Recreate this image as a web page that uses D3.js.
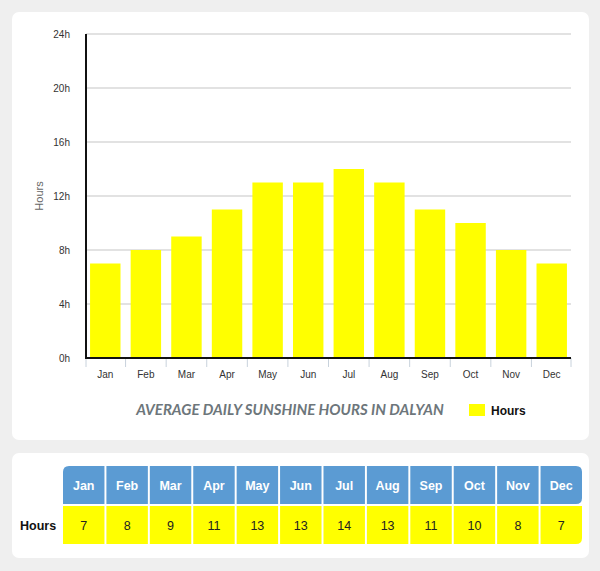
<!DOCTYPE html>
<html>
<head>
<meta charset="utf-8">
<script src="https://cdn.jsdelivr.net/npm/d3@7"></script>
<style>
  body { margin: 0; background: #efefef; }
  svg { display: block; }
  .tick text { font-family: "Liberation Sans", Arial, sans-serif; }
</style>
</head>
<body>
<div id="chart"></div>
<script>
// Chart data
var months = ["Jan", "Feb", "Mar", "Apr", "May", "Jun", "Jul", "Aug", "Sep", "Oct", "Nov", "Dec"];
var hours = [7, 8, 9, 11, 13, 13, 14, 13, 11, 10, 8, 7];
var yTicks = [0, 4, 8, 12, 16, 20, 24];

var svgWidth = 600;
var svgHeight = 571;

var svg = d3.select("#chart")
  .append("svg")
  .attr("width", svgWidth)
  .attr("height", svgHeight);

// Cards
svg.append("rect")
  .attr("x", 12).attr("y", 12)
  .attr("width", 577).attr("height", 428)
  .attr("rx", 7)
  .attr("fill", "#ffffff");

svg.append("rect")
  .attr("x", 12).attr("y", 453)
  .attr("width", 577).attr("height", 105)
  .attr("rx", 7)
  .attr("fill", "#ffffff");

// Plot area
var plot = { left: 86, right: 571, top: 34, bottom: 358 };

var xScale = d3.scaleBand()
  .domain(months)
  .range([plot.left, plot.right])
  .paddingInner(0.25)
  .paddingOuter(0.1);

var yScale = d3.scaleLinear()
  .domain([0, 24])
  .range([plot.bottom, plot.top]);

var font = "'Liberation Sans', Arial, sans-serif";

// Grid lines
svg.append("g")
  .selectAll("line")
  .data(yTicks.filter(d => d > 0))
  .enter()
  .append("line")
  .attr("x1", plot.left)
  .attr("x2", plot.right)
  .attr("y1", d => yScale(d))
  .attr("y2", d => yScale(d))
  .attr("stroke", "#d9d9d9")
  .attr("stroke-width", 1.5);

// Bars
svg.append("g")
  .selectAll("rect")
  .data(hours)
  .enter()
  .append("rect")
  .attr("x", (d, i) => xScale(months[i]))
  .attr("y", d => yScale(d))
  .attr("width", xScale.bandwidth())
  .attr("height", d => plot.bottom - yScale(d))
  .attr("fill", "#ffff00");

// Y axis labels
var leftAxis = d3.axisLeft(yScale)
  .tickValues(yTicks)
  .tickFormat(d => d + "h")
  .tickSize(0)
  .tickPadding(16);

var yAxisG = svg.append("g")
  .attr("transform", `translate(${plot.left}, 0)`)
  .call(leftAxis);
yAxisG.select(".domain").remove();
yAxisG.selectAll("text")
  .attr("font-size", "10px")
  .attr("fill", "#333");

// X axis: ticks at band boundaries
var xAxisG = svg.append("g")
  .attr("transform", `translate(0, ${plot.bottom})`);

var boundaries = months.map(m => xScale(m) - xScale.step() * xScale.paddingInner() / 2);
boundaries[0] = plot.left;
boundaries.push(plot.right);

xAxisG.selectAll("line.tk")
  .data(boundaries)
  .enter()
  .append("line")
  .attr("class", "tk")
  .attr("x1", d => d).attr("x2", d => d)
  .attr("y1", 0).attr("y2", 9)
  .attr("stroke", "#c8d2dc")
  .attr("stroke-width", 1);

xAxisG.selectAll("text")
  .data(months)
  .enter()
  .append("text")
  .attr("x", d => xScale(d) + xScale.bandwidth() / 2)
  .attr("y", 20)
  .attr("text-anchor", "middle")
  .attr("font-family", font)
  .attr("font-size", "10px")
  .attr("fill", "#333")
  .text(d => d);

// Axis lines
svg.append("line")
  .attr("x1", plot.left).attr("x2", plot.right)
  .attr("y1", plot.bottom).attr("y2", plot.bottom)
  .attr("stroke", "#111").attr("stroke-width", 2);

svg.append("line")
  .attr("x1", plot.left).attr("x2", plot.left)
  .attr("y1", plot.top).attr("y2", plot.bottom + 1)
  .attr("stroke", "#111").attr("stroke-width", 2);

// Y axis title
svg.append("text")
  .attr("transform", `translate(43, ${(plot.top + plot.bottom) / 2}) rotate(-90)`)
  .attr("text-anchor", "middle")
  .attr("font-family", font)
  .attr("font-size", "11px")
  .attr("fill", "#666")
  .text("Hours");

// Chart title
svg.append("text")
  .attr("x", 290)
  .attr("y", 415)
  .attr("text-anchor", "middle")
  .attr("font-family", "Lato, sans-serif")
  .attr("font-weight", 700)
  .attr("font-style", "italic")
  .attr("font-size", "15px")
  .attr("fill", "#6d767b")
  .text("AVERAGE DAILY SUNSHINE HOURS IN DALYAN");

// Legend
svg.append("rect")
  .attr("x", 469).attr("y", 404)
  .attr("width", 16).attr("height", 12)
  .attr("fill", "#ffff00");

svg.append("text")
  .attr("x", 491).attr("y", 415)
  .attr("font-family", font)
  .attr("font-weight", 700)
  .attr("font-size", "12px")
  .attr("fill", "#111")
  .text("Hours");

// Table
var tScale = d3.scaleBand()
  .domain(months)
  .range([63, 582])
  .paddingInner(0.045);

var headTop = 466, rowH = 38, gap = 2;
var lastM = months[months.length - 1];

function cellPath(x, y, w, h, r, corners) {
  // corners: [tl, tr, br, bl]
  var tl = corners[0] ? r : 0, tr = corners[1] ? r : 0, br = corners[2] ? r : 0, bl = corners[3] ? r : 0;
  return `M${x + tl},${y} H${x + w - tr} Q${x + w},${y} ${x + w},${y + tr}` +
    ` V${y + h - br} Q${x + w},${y + h} ${x + w - br},${y + h}` +
    ` H${x + bl} Q${x},${y + h} ${x},${y + h - bl}` +
    ` V${y + tl} Q${x},${y} ${x + tl},${y} Z`;
}

var table = svg.append("g");

table.selectAll("path.head")
  .data(months)
  .enter()
  .append("path")
  .attr("class", "head")
  .attr("d", d => cellPath(tScale(d), headTop, tScale.bandwidth(), rowH, 6,
    [d === months[0], d === lastM, d === lastM, false]))
  .attr("fill", "#5b9bd3");

table.selectAll("text.head")
  .data(months)
  .enter()
  .append("text")
  .attr("class", "head")
  .attr("x", d => tScale(d) + tScale.bandwidth() / 2)
  .attr("y", headTop + rowH / 2 + 4.5)
  .attr("text-anchor", "middle")
  .attr("font-family", font)
  .attr("font-weight", 700)
  .attr("font-size", "12.5px")
  .attr("fill", "#ffffff")
  .text(d => d);

var valTop = headTop + rowH + gap;

table.selectAll("path.val")
  .data(hours)
  .enter()
  .append("path")
  .attr("class", "val")
  .attr("d", (d, i) => cellPath(tScale(months[i]), valTop, tScale.bandwidth(), rowH, 6,
    [false, false, months[i] === lastM, false]))
  .attr("fill", "#ffff00");

table.selectAll("text.val")
  .data(hours)
  .enter()
  .append("text")
  .attr("class", "val")
  .attr("x", (d, i) => tScale(months[i]) + tScale.bandwidth() / 2)
  .attr("y", valTop + rowH / 2 + 4.5)
  .attr("text-anchor", "middle")
  .attr("font-family", font)
  .attr("font-size", "12.5px")
  .attr("fill", "#222")
  .text(d => d);

table.append("text")
  .attr("x", 20)
  .attr("y", valTop + rowH / 2 + 4.5)
  .attr("font-family", font)
  .attr("font-weight", 700)
  .attr("font-size", "12.5px")
  .attr("fill", "#111")
  .text("Hours");
</script>
</body>
</html>
